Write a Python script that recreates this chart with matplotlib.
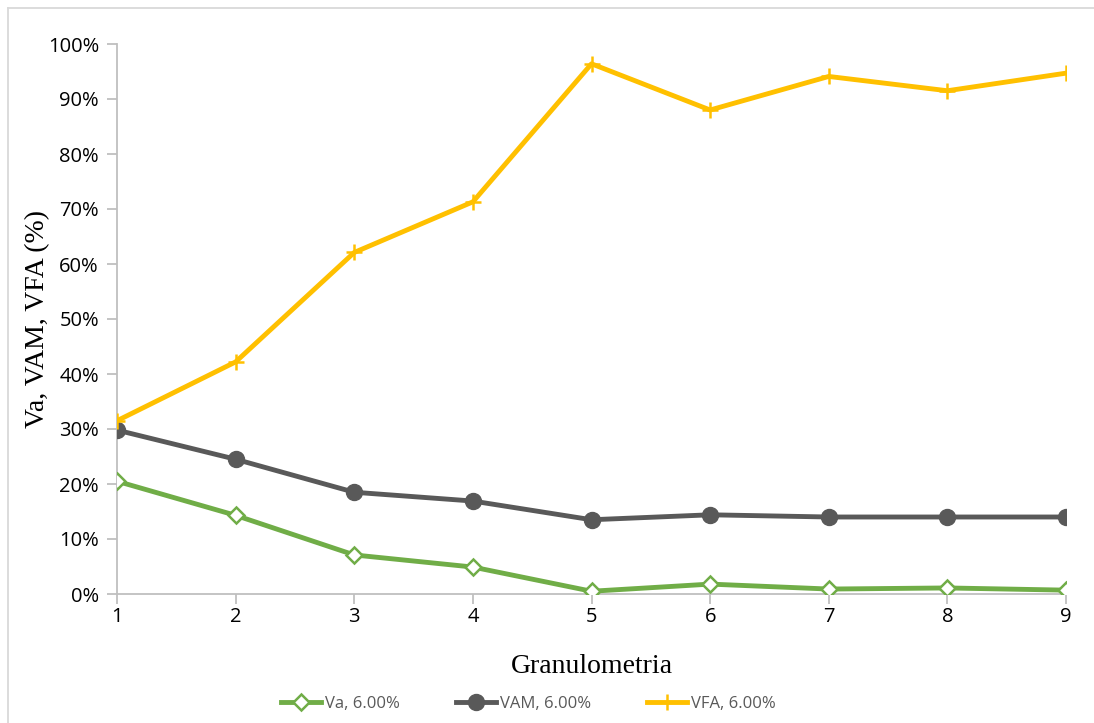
import matplotlib
matplotlib.use("Agg")
import matplotlib.pyplot as plt
from matplotlib.lines import Line2D
from matplotlib.ticker import PercentFormatter

# data
granulometria = [1, 2, 3, 4, 5, 6, 7, 8, 9]
va = [0.205, 0.143, 0.071, 0.049, 0.005, 0.018, 0.009, 0.011, 0.007]
vam = [0.298, 0.245, 0.185, 0.169, 0.135, 0.144, 0.140, 0.140, 0.140]
vfa = [0.315, 0.422, 0.621, 0.713, 0.964, 0.880, 0.941, 0.915, 0.947]
series_names = ["Va, 6.00%", "VAM, 6.00%", "VFA, 6.00%"]

green = "#70AD47"
dark = "#595959"
gold = "#FFC000"
axis_gray = "#BFBFBF"

fig = plt.figure(figsize=(10.94, 7.23), dpi=100)
ax = fig.add_axes([117 / 1094, 1 - 594 / 723, (1066 - 117) / 1094, (594 - 44) / 723])

ax.plot(granulometria, va, color=green, lw=3.5, marker="D", ms=8,
        mfc="white", mec=green, mew=1.8, label=series_names[0], zorder=3)
ax.plot(granulometria, vam, color=dark, lw=3.5, marker="o", ms=11.5,
        mfc=dark, mec=dark, label=series_names[1], zorder=3)
ax.plot(granulometria, vfa, color=gold, lw=3.5, marker="+", ms=12,
        mew=1.8, label=series_names[2], zorder=3)

ax.set_xlim(1, 9)
ax.set_ylim(0, 1.0)
ax.set_xticks(granulometria)
ax.set_yticks([i / 10 for i in range(11)])
ax.yaxis.set_major_formatter(PercentFormatter(1.0, decimals=0))

for side in ["top", "right"]:
    ax.spines[side].set_visible(False)
for side in ["left", "bottom"]:
    ax.spines[side].set_color(axis_gray)
    ax.spines[side].set_linewidth(1.3)
ax.tick_params(axis="both", direction="out", length=7, width=1.3, color=axis_gray,
               labelsize=14.5, labelcolor="#000000")
ax.tick_params(axis="x", pad=2)
ax.tick_params(axis="y", pad=6)
for lbl in ax.get_xticklabels() + ax.get_yticklabels():
    lbl.set_fontfamily("Open Sans")

ax.set_xlabel("Granulometria", fontsize=20, family="Liberation Serif", labelpad=20)
ax.set_ylabel("Va, VAM, VFA (%)", fontsize=20, family="Liberation Serif", labelpad=-2)

leg = fig.legend(loc="center", bbox_to_anchor=(0.483, 1 - 704 / 723), ncol=3,
                 frameon=False, prop={"family": "Open Sans", "size": 12},
                 handlelength=2.4, columnspacing=3.4, handletextpad=0.2)
for t in leg.get_texts():
    t.set_color("#595959")

# outer chart border (only left and top visible in the reference)
fig.add_artist(Line2D([8 / 1094, 8 / 1094], [0, 1 - 8 / 723], transform=fig.transFigure,
                      color="#D9D9D9", lw=1.3))
fig.add_artist(Line2D([8 / 1094, 1], [1 - 8 / 723, 1 - 8 / 723], transform=fig.transFigure,
                      color="#D9D9D9", lw=1.3))

fig.savefig("out.png", dpi=100)
